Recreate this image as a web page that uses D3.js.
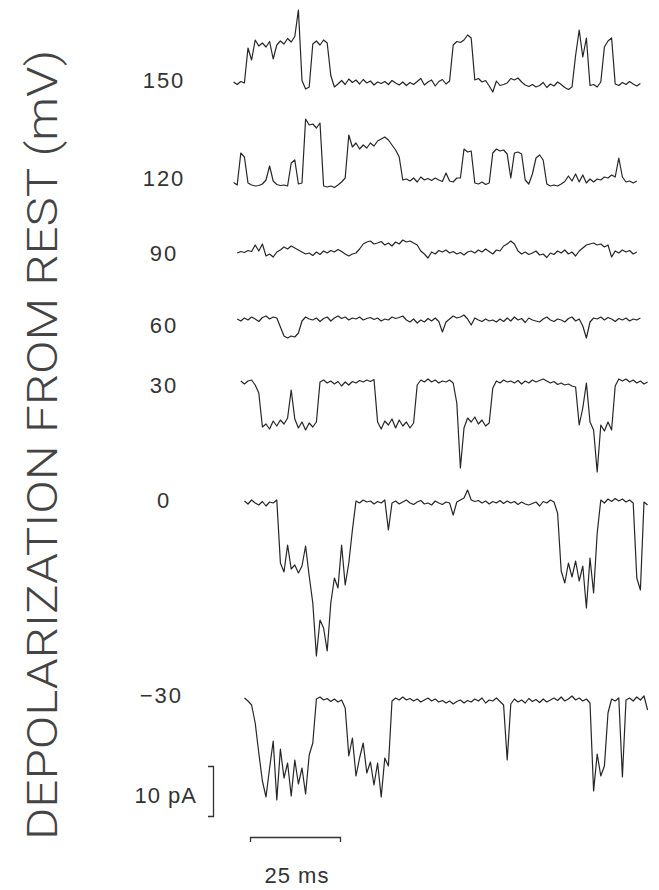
<!DOCTYPE html>
<html>
<head>
<meta charset="utf-8">
<script src="https://cdn.jsdelivr.net/npm/d3@7"></script>
<style>
  html, body { margin: 0; padding: 0; background: #fff; }
  svg { display: block; }
  .trace { fill: none; stroke: #262626; stroke-width: 1.2; stroke-linejoin: round; }
  .num { font-family: "Liberation Sans", Arial, sans-serif; font-size: 22px; fill: #333; letter-spacing: 2px; }
  .ylab { font-family: Roboto, "Liberation Sans", sans-serif; font-weight: 300; font-size: 42px; fill: #444; }
  .bar path { stroke: #333; stroke-width: 1.3; fill: none; }
</style>
</head>
<body>
<svg id="chart" width="659" height="890"></svg>
<script>
// step voltage for each sweep (mV from rest)
const voltages = [150, 120, 90, 60, 30, 0, -30];
const voltageLabels = ["150", "120", "90", "60", "30", "0", "\u221230"];

// each trace is sampled every 1 ms, first sample at traceStart (ms); values in pA
const sampleStep = 1;
const traceStart = [1, 1, 2, 2, 3, 4, 4];

const trace150 = [0.2,-0.3,0.3,0.0,7.0,4.6,8.6,7.4,8.0,7.2,8.3,4.8,7.6,8.4,7.8,8.9,8.2,9.3,14.6,
  0.5,-1.2,-0.8,7.8,8.4,7.6,8.6,8.0,1.5,
  -0.8,-0.2,0.5,-0.3,0.8,0.1,0.6,-0.2,0.7,0.0,0.4,-0.4,0.2,-0.1,0.3,-0.3,0.5,0.0,-0.4,0.2,-0.5,0.1,
  -0.3,0.3,0.9,-0.4,0.2,0.6,-0.6,0.3,0.7,-0.2,0.4,
  7.6,8.3,8.1,8.6,9.6,9.0,
  0.6,0.9,0.2,0.5,-0.6,-1.8,0.4,-0.5,-0.3,0.0,0.9,0.6,1.0,0.2,-0.4,-0.7,-0.3,-0.8,-0.5,0.1,
  -0.9,-0.2,-0.6,0.2,-0.3,-0.9,-1.3,-0.8,
  5.5,10.6,5.2,9.0,-0.5,-0.3,-0.8,0.2,7.2,8.4,9.0,
  -0.2,-0.5,0.1,-0.3,0.3,-0.2,-0.6,-0.1];

const trace120 = [0.1,-0.4,6.0,5.2,0.0,-0.4,-0.6,-0.5,-0.2,0.6,3.4,0.4,-0.3,-0.5,-0.4,-0.6,4.0,4.6,-0.2,0.0,
  12.8,11.6,11.8,11.0,12.0,-0.6,-0.8,-0.6,-0.9,-0.4,0.2,1.0,
  9.6,7.2,8.0,6.8,7.6,7.0,8.0,7.4,8.4,8.8,9.2,8.6,7.6,6.6,5.2,
  0.6,0.8,0.4,1.0,0.2,1.2,0.6,0.9,0.5,1.0,0.6,0.3,2.0,0.4,0.2,1.0,1.0,
  6.8,6.2,6.4,0.0,-0.2,0.2,-0.3,0.0,6.0,6.8,6.4,6.6,5.8,1.0,6.0,6.2,5.8,0.6,-0.2,1.8,5.0,5.6,4.6,
  -0.2,-0.6,-0.4,-0.6,-0.2,0.3,1.4,0.4,1.8,0.2,1.6,0.0,0.8,0.2,0.8,0.6,1.2,1.0,1.6,1.2,5.0,1.2,
  0.2,0.4,0.0,0.4];

const trace90 = [0.0,0.3,0.1,0.5,0.3,1.6,0.4,1.8,-0.6,-0.2,
  -0.8,0.2,0.6,1.2,0.8,1.4,1.0,0.6,0.2,-0.2,
  0.0,-0.5,0.2,-0.3,0.4,0.0,0.5,0.2,0.7,0.3,
  -0.2,-0.6,-0.2,0.0,0.8,1.8,2.2,2.4,1.8,2.0,
  2.3,1.6,2.0,1.4,2.2,1.8,2.6,2.2,2.4,2.0,
  1.6,0.4,-0.2,-1.0,0.2,-0.2,0.5,0.2,0.6,0.0,
  0.3,-0.2,0.1,-0.4,0.2,0.4,0.0,0.6,0.2,0.8,
  0.3,-0.2,0.6,0.4,1.4,1.8,2.4,1.8,0.4,-0.2,
  0.2,-0.3,0.0,0.4,-0.4,-0.2,-0.9,0.0,-0.3,0.4,
  0.0,0.6,-0.2,0.2,-0.6,0.4,1.0,1.6,1.8,2.0,
  1.6,1.8,1.2,1.6,-0.8,0.4,0.0,0.6,0.2,0.5,
  -0.2,0.2];

const trace60 = [0.2,-0.2,0.4,0.0,0.6,0.2,-0.3,0.5,0.8,0.2,
  0.6,0.4,-1.4,-3.2,-3.6,-3.2,-3.4,-2.6,-0.2,0.6,
  0.2,0.0,0.4,-0.3,0.3,0.6,-0.2,0.4,0.8,0.3,
  0.6,0.0,0.4,0.2,0.6,0.0,0.3,0.5,0.1,0.4,
  -0.2,0.2,0.0,0.6,0.3,0.5,0.8,0.0,-0.4,0.2,
  -0.6,0.0,-0.4,0.3,-0.2,0.4,-0.3,-2.4,-0.4,0.2,
  0.8,0.4,0.6,1.0,0.2,-1.0,0.4,0.0,-0.3,0.2,
  -0.2,0.0,-0.4,0.2,-0.3,0.4,-0.2,0.6,0.0,0.3,
  -0.5,0.4,0.0,-0.2,-0.4,0.2,0.6,0.0,-0.3,0.2,
  0.0,-0.4,0.3,0.6,-0.2,0.2,-1.2,-3.6,-0.4,0.4,
  0.2,0.6,0.0,0.5,0.2,-0.3,0.3,0.0,0.4,-0.2,
  0.2,0.0,0.4];

const trace30 = [0.4,-0.2,0.4,0.6,-0.4,-2.0,-8.8,-8.2,-9.2,-7.6,
  -8.6,-7.4,-8.2,-7.0,-1.4,-7.2,-9.0,-7.8,-9.4,-8.0,
  -8.8,-7.8,0.2,0.6,0.0,0.4,-0.2,0.3,-0.6,0.2,
  -0.4,0.3,0.0,0.5,0.2,0.6,0.3,0.7,-7.8,-9.2,
  -7.6,-8.4,-7.2,-9.0,-7.4,-8.6,-7.8,-9.0,-8.0,-0.4,
  0.6,0.2,0.8,0.2,0.6,0.0,0.4,0.2,0.6,0.0,
  -4.0,-17.0,-9.0,-7.0,-7.8,-6.8,-8.2,-7.4,-8.6,-8.0,
  -1.0,0.4,0.0,0.6,0.2,0.4,0.0,0.5,-0.2,0.4,
  0.0,0.6,0.2,0.5,0.8,0.4,0.0,0.3,-0.3,0.0,
  -0.4,-0.2,-0.6,-0.8,-8.4,-5.0,0.0,-7.8,-9.4,-17.8,
  -8.4,-9.6,-7.8,-9.4,-0.6,0.8,0.4,0.8,0.2,0.6,
  0.0,0.4,-0.2,0.2];

const trace0 = [0.4,-0.2,0.6,0.0,-0.4,0.3,-0.6,0.2,0.0,0.6,
  -12.0,-13.8,-8.4,-13.2,-12.4,-14.0,-12.6,-8.6,-14.6,-20.0,
  -30.6,-23.4,-25.0,-29.6,-20.0,-15.0,-17.0,-8.4,-16.4,-12.0,
  -5.4,0.4,0.0,0.6,0.2,0.4,-0.2,0.3,0.0,0.6,
  -5.4,0.0,0.4,-0.2,0.2,0.6,0.0,-0.3,0.2,0.5,
  -0.2,0.0,-0.4,0.4,0.0,-0.3,0.2,0.0,-2.4,0.2,
  0.6,1.0,2.6,0.6,0.3,0.5,0.0,0.4,-0.2,0.3,
  0.0,0.5,-0.1,0.4,0.0,0.3,-0.3,0.2,-0.2,-0.4,
  -0.1,0.2,-0.6,0.3,0.0,0.6,0.2,-2.0,-13.6,-16.0,
  -12.0,-14.8,-11.6,-15.6,-12.6,-21.0,-11.0,-18.0,-6.0,0.6,
  0.0,0.8,0.3,0.9,0.4,0.8,0.2,0.6,0.0,-15.0,
  -17.4,0.2,-0.4];

const traceM30 = [1.0,0.4,-0.4,-4.0,-10.0,-15.6,-18.8,-13.0,-7.6,-19.4,
  -9.2,-15.0,-12.0,-18.6,-11.4,-16.2,-13.0,-18.2,-10.4,-8.0,
  0.8,1.2,0.6,0.9,0.3,0.8,0.2,0.6,-1.0,-10.6,
  -7.0,-14.6,-11.0,-8.0,-14.0,-11.8,-16.4,-12.0,-18.8,-11.0,
  -12.6,0.4,1.0,0.6,1.2,0.6,0.9,0.4,0.8,0.2,
  0.6,1.0,0.4,0.8,0.2,0.5,0.0,0.4,-0.2,0.3,
  0.6,0.0,0.5,0.2,0.8,0.4,1.0,0.0,0.6,0.4,
  1.0,0.3,-0.4,-11.4,-0.2,0.8,0.2,0.6,0.0,0.9,
  0.3,0.7,0.1,0.8,0.2,0.6,1.0,0.5,1.2,0.4,
  0.8,1.4,0.6,1.0,0.4,0.8,0.0,-17.6,-10.2,-14.6,
  -12.6,-2.0,0.8,0.4,1.0,-14.8,0.6,1.0,0.4,1.2,
  0.6,1.4,-1.4];

const traces = [trace150, trace120, trace90, trace60, trace30, trace0, traceM30];

// calibration bars
const barCurrent = 10; // pA
const barTime = 25;    // ms

// layout: closed-level line and label centre of each row
const rowBase = [83, 183, 253, 320, 383, 503, 703];
const labelMid = [80, 178, 253, 325, 385, 500, 695];

const svg = d3.select("#chart");

const x = d3.scaleLinear().domain([0, barTime]).range([230, 320]);
const y = d3.scaleLinear().domain([0, barCurrent]).range([0, -50]);

const line = d3.line()
  .x(d => x(d.t))
  .y(d => y(d.i));

traces.forEach((tr, k) => {
  const pts = tr.map((v, j) => ({ t: traceStart[k] + j * sampleStep, i: v }));
  svg.append("path")
    .attr("class", "trace")
    .attr("transform", `translate(0,${rowBase[k]})`)
    .attr("d", line(pts));
});

// voltage labels
svg.selectAll("text.num.v").data(voltages).enter().append("text")
  .attr("class", "num v")
  .attr("x", d => d < 0 ? 183 : 164)
  .attr("y", (d, k) => labelMid[k])
  .attr("dy", "0.36em")
  .attr("text-anchor", d => d < 0 ? "end" : "middle")
  .text((d, k) => voltageLabels[k]);

// current scale bar (bracket with ticks pointing left)
const yBar = d3.scaleLinear().domain([0, barCurrent]).range([816, 766]);
svg.append("g")
  .attr("class", "bar")
  .attr("transform", "translate(213,0)")
  .call(d3.axisLeft(yBar).tickValues([]).tickSizeOuter(5));

svg.append("text")
  .attr("class", "num")
  .attr("x", 197)
  .attr("y", 795)
  .attr("dy", "0.36em")
  .attr("text-anchor", "end")
  .style("letter-spacing", "1px")
  .text(barCurrent + " pA");

// time scale bar
const xBar = d3.scaleLinear().domain([0, barTime]).range([250, 250 + x(barTime) - x(0)]);
svg.append("g")
  .attr("class", "bar")
  .attr("transform", "translate(0,837)")
  .call(d3.axisBottom(xBar).tickValues([]).tickSizeOuter(5));

svg.append("text")
  .attr("class", "num")
  .attr("x", 297)
  .attr("y", 875)
  .attr("dy", "0.36em")
  .attr("text-anchor", "middle")
  .style("letter-spacing", "1px")
  .text(barTime + " ms");

// rotated axis title
svg.append("text")
  .attr("class", "ylab")
  .attr("transform", "translate(57,445) rotate(-90)")
  .attr("text-anchor", "middle")
  .attr("textLength", 790)
  .attr("lengthAdjust", "spacingAndGlyphs")
  .text("DEPOLARIZATION FROM REST (mV)");
</script>
</body>
</html>
